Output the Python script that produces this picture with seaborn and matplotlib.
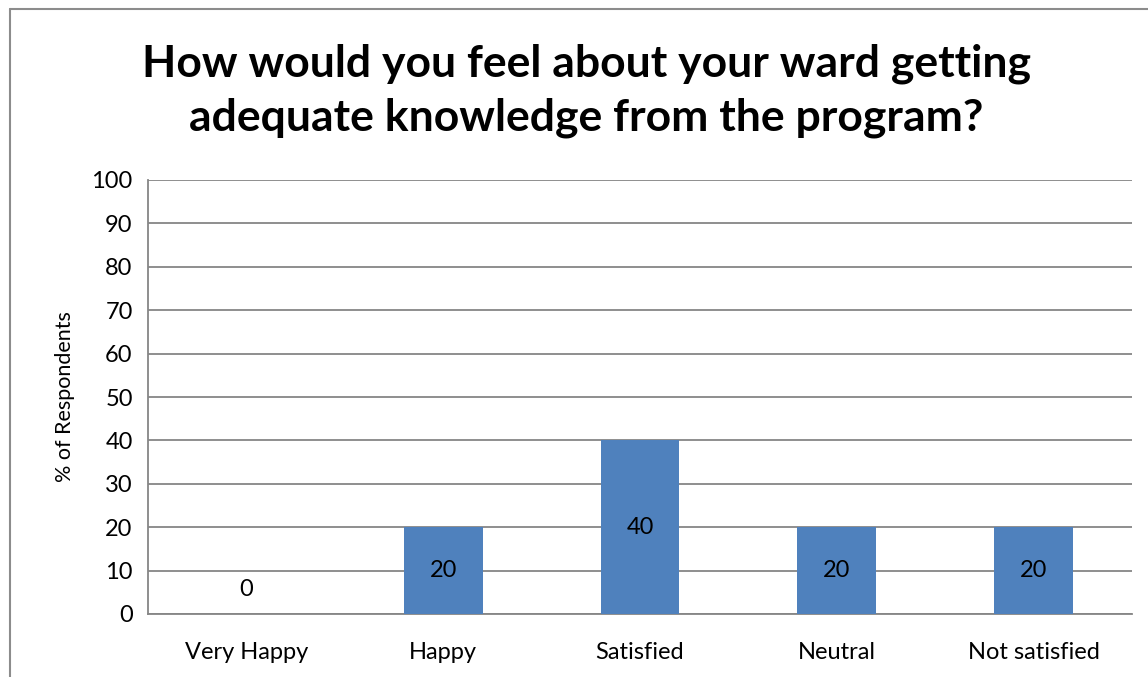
import matplotlib
matplotlib.use("Agg")
import matplotlib.pyplot as plt
from matplotlib.lines import Line2D
import seaborn as sns
import pandas as pd

categories = ["Very Happy", "Happy", "Satisfied", "Neutral", "Not satisfied"]
values = [0, 20, 40, 20, 20]
y_ticks = list(range(0, 101, 10))

title = "How would you feel about your ward getting\nadequate knowledge from the program?"

sns.set_style("white")
plt.rcParams['font.family'] = ['Lato', 'DejaVu Sans']
plt.rcParams['text.color'] = 'black'
plt.rcParams['axes.labelcolor'] = 'black'
plt.rcParams['xtick.labelcolor'] = 'black'
plt.rcParams['ytick.labelcolor'] = 'black'

df = pd.DataFrame({"category": categories, "value": values})

fig = plt.figure(figsize=(11.48, 6.77), dpi=100)
ax = fig.add_axes([148 / 1148, 1 - 614 / 677, (1132 - 148) / 1148, (614 - 180) / 677])

grid_color = "#868686"
sns.barplot(data=df, x="category", y="value", color="#4F81BD", width=0.4,
            saturation=1, linewidth=0, ax=ax, zorder=3)

ax.set_ylim(0, 100)
ax.set_xlim(-0.5, len(categories) - 0.5)
ax.set_yticks(y_ticks)
ax.yaxis.grid(True, color=grid_color, linewidth=1.3, zorder=0)
ax.set_axisbelow(True)

# category boundary ticks like Excel
ax.set_xticks([i - 0.5 for i in range(len(categories) + 1)], minor=True)
ax.tick_params(axis="x", which="major", length=0, pad=20, labelsize=17)
ax.tick_params(axis="x", which="minor", length=7, width=1.3, color=grid_color, direction="out")
ax.tick_params(axis="y", length=7, width=1.3, color=grid_color, direction="out", labelsize=17, pad=4)

for s in ["top", "right"]:
    ax.spines[s].set_visible(False)
for s in ["left", "bottom"]:
    ax.spines[s].set_color(grid_color)
    ax.spines[s].set_linewidth(1.3)

ax.set_xlabel("")
ax.set_ylabel("% of Respondents", fontsize=15.5, labelpad=12)

# data labels in the middle of each bar
for patch, v in zip(ax.patches, values):
    x = patch.get_x() + patch.get_width() / 2
    if v == 0:
        ax.annotate(str(v), (x, 0), xytext=(0, 18), textcoords="offset points",
                    ha="center", va="center", fontsize=17)
    else:
        ax.text(x, v / 2, str(v), ha="center", va="center", fontsize=17, zorder=4)

fig.text(586 / 1148, 1 - 91 / 677, title, ha="center", va="center",
         fontsize=32, fontweight="bold", linespacing=1.4)

# outer chart frame (left and top edges visible)
frame_color = "#8c8c8c"
fig.add_artist(Line2D([10 / 1148, 10 / 1148], [0, 1 - 9 / 677], transform=fig.transFigure,
                      color=frame_color, linewidth=1.5))
fig.add_artist(Line2D([10 / 1148, 1], [1 - 9 / 677, 1 - 9 / 677], transform=fig.transFigure,
                      color=frame_color, linewidth=1.5))

fig.savefig("out.png", dpi=100)
